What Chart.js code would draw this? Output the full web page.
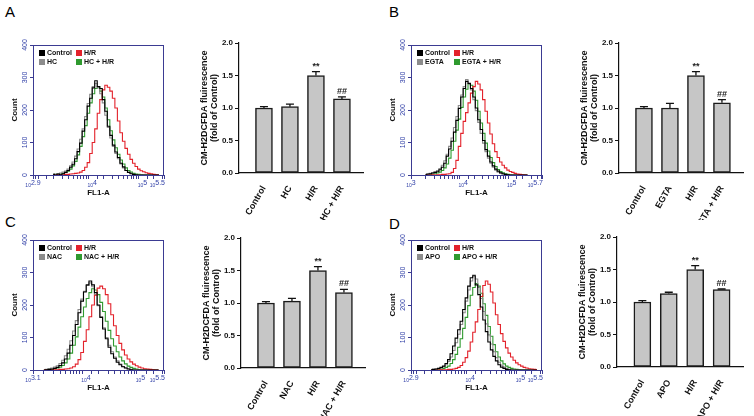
<!DOCTYPE html>
<html>
<head>
<meta charset="utf-8">
<title>CM-H2DCFDA flow cytometry</title>
<script src="https://cdn.jsdelivr.net/npm/chart.js@4"></script>
<style>
  body { margin: 0; background: #fff; width: 754px; height: 416px; position: relative; overflow: hidden;
         font-family: Arial, "Liberation Sans", sans-serif; }
  canvas { position: absolute; }
  .letter { position: absolute; font-size: 15px; color: #000; line-height: 18px; }
</style>
</head>
<body>
<div class="letter" style="left:5px;top:3px">A</div>
<div class="letter" style="left:389px;top:3px">B</div>
<div class="letter" style="left:5px;top:213px">C</div>
<div class="letter" style="left:389px;top:215px">D</div>

<canvas id="histA" width="185" height="170" style="left:0px;top:30px"></canvas>
<canvas id="barA" width="175" height="190" style="left:195px;top:30px"></canvas>
<canvas id="histB" width="185" height="170" style="left:378px;top:30px"></canvas>
<canvas id="barB" width="175" height="190" style="left:575px;top:30px"></canvas>
<canvas id="histC" width="185" height="170" style="left:0px;top:225px"></canvas>
<canvas id="barC" width="175" height="191" style="left:197px;top:225px"></canvas>
<canvas id="histD" width="185" height="170" style="left:378px;top:225px"></canvas>
<canvas id="barD" width="175" height="191" style="left:573px;top:225px"></canvas>

<script>
// histogram bins, log10 of FL1-A
const bins = [3.30, 3.35, 3.40, 3.45, 3.50, 3.55, 3.60, 3.65, 3.70, 3.75,
              3.80, 3.85, 3.90, 3.95, 4.00, 4.05, 4.10, 4.15, 4.20, 4.25,
              4.30, 4.35, 4.40, 4.45, 4.50, 4.55, 4.60, 4.65, 4.70, 4.75,
              4.80, 4.85, 4.90, 4.95, 5.00, 5.05, 5.10, 5.15, 5.20, 5.25,
              5.30, 5.35, 5.40];

// panel A counts
const ctrlA   = [2,0,3,1,4, 8,14,24,33,50, 72,98,135,170,212, 236,268,290,272,266, 232,196,150,122,92, 71,54,36,25,14, 8,4,2,1,0, 0,0,0,0,0, 0,0,0];
const hrA     = [0,0,1,0,1, 2,2,3,4,5, 6,9,14,24,38, 66,100,142,190,232, 262,276,270,258,236, 206,166,130,104,82, 64,48,36,26,18, 13,10,7,5,4, 2,1,0];
const drugA   = [3,2,4,6,9, 12,18,28,40,58, 80,110,142,180,220, 248,272,282,268,250, 222,184,146,114,88, 66,50,34,22,14, 8,5,2,1,0, 0,0,0,0,0, 0,0,0];
const drugHrA = [1,2,2,3,5, 8,12,18,28,42, 62,88,118,152,190, 222,250,266,272,258, 240,206,170,136,108, 84,64,46,34,22, 14,9,5,3,2, 1,0,0,0,0, 0,0,0];

// panel B counts
const ctrlB   = [1,3,4,6,8, 10,16,24,36,58, 80,104,132,168,205, 240,266,288,282,266, 240,206,170,140,106, 78,58,40,28,18, 12,7,4,2,1, 0,0,0,0,0, 0,0,0];
const hrB     = [0,0,0,1,0, 1,1,2,2,3, 4,8,20,45,88, 128,165,192,222,252, 272,288,280,262,232, 196,160,126,96,72, 54,40,30,22,15, 11,8,5,3,2, 1,0,0];
const drugB   = [2,2,5,7,10, 14,20,30,44,64, 88,114,146,180,214, 246,272,294,280,262, 232,198,162,128,98, 72,52,36,24,15, 9,5,3,1,0, 0,0,0,0,0, 0,0,0];
const drugHrB = [0,1,2,3,4, 6,9,14,22,34, 52,76,104,138,172, 208,240,264,280,276, 258,230,196,160,128, 98,74,54,38,26, 17,11,7,4,2, 1,0,0,0,0, 0,0,0];

// panel C counts
const ctrlC   = [0,1,2,3,5, 8,14,22,34,52, 76,106,140,176,212, 240,262,274,262,238, 200,162,126,96,70, 50,36,24,16,10, 6,3,1,0,0, 0,0,0,0,0, 0,0,0];
const hrC     = [0,0,0,1,1, 1,2,2,3,4, 6,10,18,32,54, 88,124,164,200,230, 252,258,250,232,204, 170,136,106,82,62, 46,34,25,18,13, 9,6,4,3,2, 1,0,0];
const drugC   = [1,2,4,6,9, 13,20,30,44,64, 90,120,152,186,218, 242,260,268,256,232, 198,164,130,100,76, 56,40,28,18,11, 7,4,2,1,0, 0,0,0,0,0, 0,0,0];
const drugHrC = [0,1,2,2,4, 6,9,14,22,34, 52,76,102,132,164, 194,220,238,250,246, 232,208,180,150,122, 96,74,56,40,28, 19,12,8,5,3, 1,0,0,0,0, 0,0,0];

// panel D counts
const ctrlD   = [1,2,3,5,8, 12,20,32,50,74, 98,124,150,186,222, 258,284,290,262,232, 194,154,118,86,62, 42,28,16,9,5, 2,1,0,0,0, 0,0,0,0,0, 0,0,0];
const hrD     = [0,0,0,0,1, 1,1,2,2,3, 5,8,14,24,38, 58,86,116,148,186, 226,260,274,264,240, 206,170,140,112,88, 68,52,40,30,22, 16,12,8,6,4, 3,2,1];
const drugD   = [1,2,3,4,6, 10,16,26,40,60, 84,110,140,176,212, 246,274,292,280,254, 220,180,142,108,80, 56,38,24,15,9, 5,2,1,0,0, 0,0,0,0,0, 0,0,0];
const drugHrD = [0,1,1,2,3, 5,8,12,20,32, 48,70,96,128,162, 198,230,254,266,258, 236,204,168,134,104, 78,56,40,28,19, 12,8,5,3,2, 1,0,0,0,0, 0,0,0];

// x tick labels (exponents) per histogram
const expA = [2.9, 4, 5, 5.5];
const expB = [3, 4, 5, 5.7];
const expC = [3.1, 4, 5, 5.5];
const expD = [2.9, 4, 5, 5.5];
const countTicks = [0, 100, 200, 300, 400];

// bar charts
const catsA = ['Control', 'HC', 'H/R', 'HC + H/R'];
const catsB = ['Control', 'EGTA', 'H/R', 'EGTA + H/R'];
const catsC = ['Control', 'NAC', 'H/R', 'NAC + H/R'];
const catsD = ['Control', 'APO', 'H/R', 'APO + H/R'];
const meanA = [1.00, 1.02, 1.50, 1.14];
const errA  = [0.02, 0.04, 0.06, 0.03];
const meanB = [1.00, 1.00, 1.50, 1.08];
const errB  = [0.02, 0.07, 0.06, 0.05];
const meanC = [1.00, 1.03, 1.50, 1.16];
const errC  = [0.02, 0.04, 0.06, 0.05];
const meanD = [1.00, 1.13, 1.50, 1.19];
const errD  = [0.02, 0.02, 0.06, 0.01];
const marks = ['', '', '**', '##'];
const foldTicks = [0, 0.5, 1.0, 1.5, 2.0];

const NAVY = '#3b3b92';
const TICKBLUE = '#3342a8';
const lineColors = ['#000000', '#e3222b', '#8c8c8c', '#2f9a2f'];

// frame, inside legend, rotated count labels, 10^x labels
function histDecor(exps) {
  return {
    id: 'histDecor',
    afterDraw(chart) {
      const ctx = chart.ctx, a = chart.chartArea;
      const sx = chart.scales.x, sy = chart.scales.y;
      ctx.save();
      ctx.strokeStyle = NAVY;
      ctx.lineWidth = 1;
      ctx.strokeRect(a.left + 0.5, a.top + 0.5, a.right - a.left - 1, a.bottom - a.top);

      // legend
      ctx.font = 'bold 7px Arial, "Liberation Sans", sans-serif';
      ctx.textBaseline = 'middle';
      ctx.textAlign = 'left';
      chart.data.datasets.forEach((ds, i) => {
        const x = a.left + 6 + (i % 2) * 37;
        const y = a.top + 8 + Math.floor(i / 2) * 9;
        ctx.fillStyle = ds.borderColor;
        ctx.fillRect(x, y - 3, 6, 6);
        ctx.fillStyle = '#111';
        ctx.fillText(ds.label, x + 8, y + 0.5);
      });

      // count tick labels, rotated
      ctx.fillStyle = TICKBLUE;
      ctx.font = '7px Arial, "Liberation Sans", sans-serif';
      ctx.textAlign = 'center';
      countTicks.forEach(v => {
        ctx.save();
        ctx.translate(a.left - 8, sy.getPixelForValue(v));
        ctx.rotate(-Math.PI / 2);
        ctx.fillText(String(v), 0, 0);
        ctx.restore();
      });

      // 10^x labels
      exps.forEach((e, i) => {
        const px = sx.getPixelForValue(Math.pow(10, e));
        const sup = String(e);
        ctx.font = '5px Arial, "Liberation Sans", sans-serif';
        const w1 = ctx.measureText('10').width;
        ctx.font = '7px Arial, "Liberation Sans", sans-serif';
        const w2 = ctx.measureText(sup).width;
        const w = w1 + w2;
        let x0 = px - w / 2;
        if (i > 0 && i < exps.length - 1) x0 = px - 1;
        if (i === exps.length - 1) x0 = px - w + 1;
        const y = a.bottom + 11;
        ctx.textAlign = 'left';
        ctx.textBaseline = 'alphabetic';
        ctx.font = '5px Arial, "Liberation Sans", sans-serif';
        ctx.fillText('10', x0, y + 1);
        ctx.font = '7px Arial, "Liberation Sans", sans-serif';
        ctx.fillText(sup, x0 + w1, y - 1);
      });
      ctx.restore();
    }
  };
}

function makeHist(id, xMin, xMax, exps, names, series) {
  new Chart(document.getElementById(id), {
    type: 'line',
    data: {
      datasets: series.map((s, i) => ({
        label: names[i],
        data: s.map((c, j) => ({ x: Math.pow(10, bins[j]), y: c })),
        borderColor: lineColors[i],
        borderWidth: 1.1,
        pointRadius: 0,
        stepped: 'middle',
        fill: false
      }))
    },
    options: {
      responsive: false,
      animation: false,
      layout: { autoPadding: false, padding: { top: 15, right: 21, left: 0, bottom: 0 } },
      plugins: { legend: { display: false }, tooltip: { enabled: false } },
      scales: {
        x: {
          type: 'logarithmic',
          min: Math.pow(10, xMin),
          max: Math.pow(10, xMax),
          border: { display: false },
          grid: { drawOnChartArea: false, drawTicks: true, tickLength: 4, color: NAVY },
          ticks: { display: false },
          title: { display: true, text: 'FL1-A', color: '#111',
                   font: { size: 8, weight: 'bold' }, padding: { top: 0, bottom: 2 } },
          afterFit: s => { s.height = 25; s.paddingLeft = 0; s.paddingRight = 0; }
        },
        y: {
          min: 0, max: 400,
          border: { display: false },
          grid: { drawOnChartArea: false, drawTicks: true, tickLength: 3, color: NAVY },
          ticks: { display: false, stepSize: 100 },
          title: { display: true, text: 'Count', color: '#111',
                   font: { size: 8, weight: 'bold' }, padding: { top: 10, bottom: 0 } },
          afterFit: s => { s.width = 33; s.paddingTop = 0; s.paddingBottom = 0; }
        }
      }
    },
    plugins: [histDecor(exps)]
  });
}

// error bars and significance marks
function barDecor(means, errs) {
  return {
    id: 'barDecor',
    afterDatasetsDraw(chart) {
      const ctx = chart.ctx, sy = chart.scales.y;
      const meta = chart.getDatasetMeta(0);
      ctx.save();
      ctx.strokeStyle = '#111';
      ctx.lineWidth = 1.3;
      ctx.fillStyle = '#222';
      ctx.font = 'bold 9px Arial, "Liberation Sans", sans-serif';
      ctx.textAlign = 'center';
      ctx.textBaseline = 'alphabetic';
      meta.data.forEach((bar, i) => {
        const yTop = sy.getPixelForValue(means[i] + errs[i]);
        ctx.beginPath();
        ctx.moveTo(bar.x, bar.y);
        ctx.lineTo(bar.x, yTop);
        ctx.moveTo(bar.x - 4, yTop);
        ctx.lineTo(bar.x + 4, yTop);
        ctx.stroke();
        if (marks[i]) ctx.fillText(marks[i], bar.x, yTop - 3);
      });
      ctx.restore();
    }
  };
}

function makeBar(id, cats, means, errs, padTop, padRight, xHeight) {
  new Chart(document.getElementById(id), {
    type: 'bar',
    data: {
      datasets: [{
        data: means.map((m, i) => ({ x: i + 1, y: m })),
        backgroundColor: '#c6c6c6',
        borderColor: '#1b1b1b',
        borderWidth: 1.5,
        borderSkipped: false,
        barThickness: 17
      }]
    },
    options: {
      responsive: false,
      animation: false,
      layout: { autoPadding: false, padding: { top: padTop, right: padRight, left: 0, bottom: 0 } },
      plugins: { legend: { display: false }, tooltip: { enabled: false } },
      scales: {
        x: {
          type: 'linear',
          offset: false,
          min: 0.04, max: 4.81,
          afterBuildTicks: s => { s.ticks = cats.map((c, i) => ({ value: i + 1 })); },
          ticks: {
            autoSkip: false, minRotation: 60, maxRotation: 60, padding: 3,
            color: '#111', font: { size: 9, weight: 'bold' },
            callback: v => cats[v - 1]
          },
          grid: { display: false, offset: false },
          border: { display: true, color: '#111', width: 1.2 },
          afterFit: s => { s.height = xHeight; s.paddingLeft = 0; s.paddingRight = 0; }
        },
        y: {
          min: 0, max: 2,
          afterBuildTicks: s => { s.ticks = foldTicks.map(v => ({ value: v })); },
          ticks: { color: '#111', font: { size: 8, weight: 'bold' }, padding: 2,
                   callback: v => v.toFixed(1) },
          grid: { drawOnChartArea: false, drawTicks: true, tickLength: 4, color: '#111' },
          border: { display: true, color: '#111', width: 1.2 },
          title: { display: true, text: ['CM-H2DCFDA fluirescence', '(fold of Control)'], color: '#111',
                   font: { size: 9, weight: 'bold', lineHeight: 1.15 }, padding: { top: 4, bottom: 0 } },
          afterFit: s => { s.width = 44; s.paddingTop = 0; s.paddingBottom = 0; }
        }
      }
    },
    plugins: [barDecor(means, errs)]
  });
}

makeHist('histA', 2.9, 5.5, expA, ['Control', 'H/R', 'HC', 'HC + H/R'], [ctrlA, hrA, drugA, drugHrA]);
makeHist('histB', 3.0, 5.7, expB, ['Control', 'H/R', 'EGTA', 'EGTA + H/R'], [ctrlB, hrB, drugB, drugHrB]);
makeHist('histC', 3.1, 5.5, expC, ['Control', 'H/R', 'NAC', 'NAC + H/R'], [ctrlC, hrC, drugC, drugHrC]);
makeHist('histD', 2.9, 5.5, expD, ['Control', 'H/R', 'APO', 'APO + H/R'], [ctrlD, hrD, drugD, drugHrD]);

makeBar('barA', catsA, meanA, errA, 13, 7, 47);
makeBar('barB', catsB, meanB, errB, 13, 7, 47);
makeBar('barC', catsC, meanC, errC, 13, 7, 48);
makeBar('barD', catsD, meanD, errD, 12, 5, 49);
</script>
</body>
</html>
